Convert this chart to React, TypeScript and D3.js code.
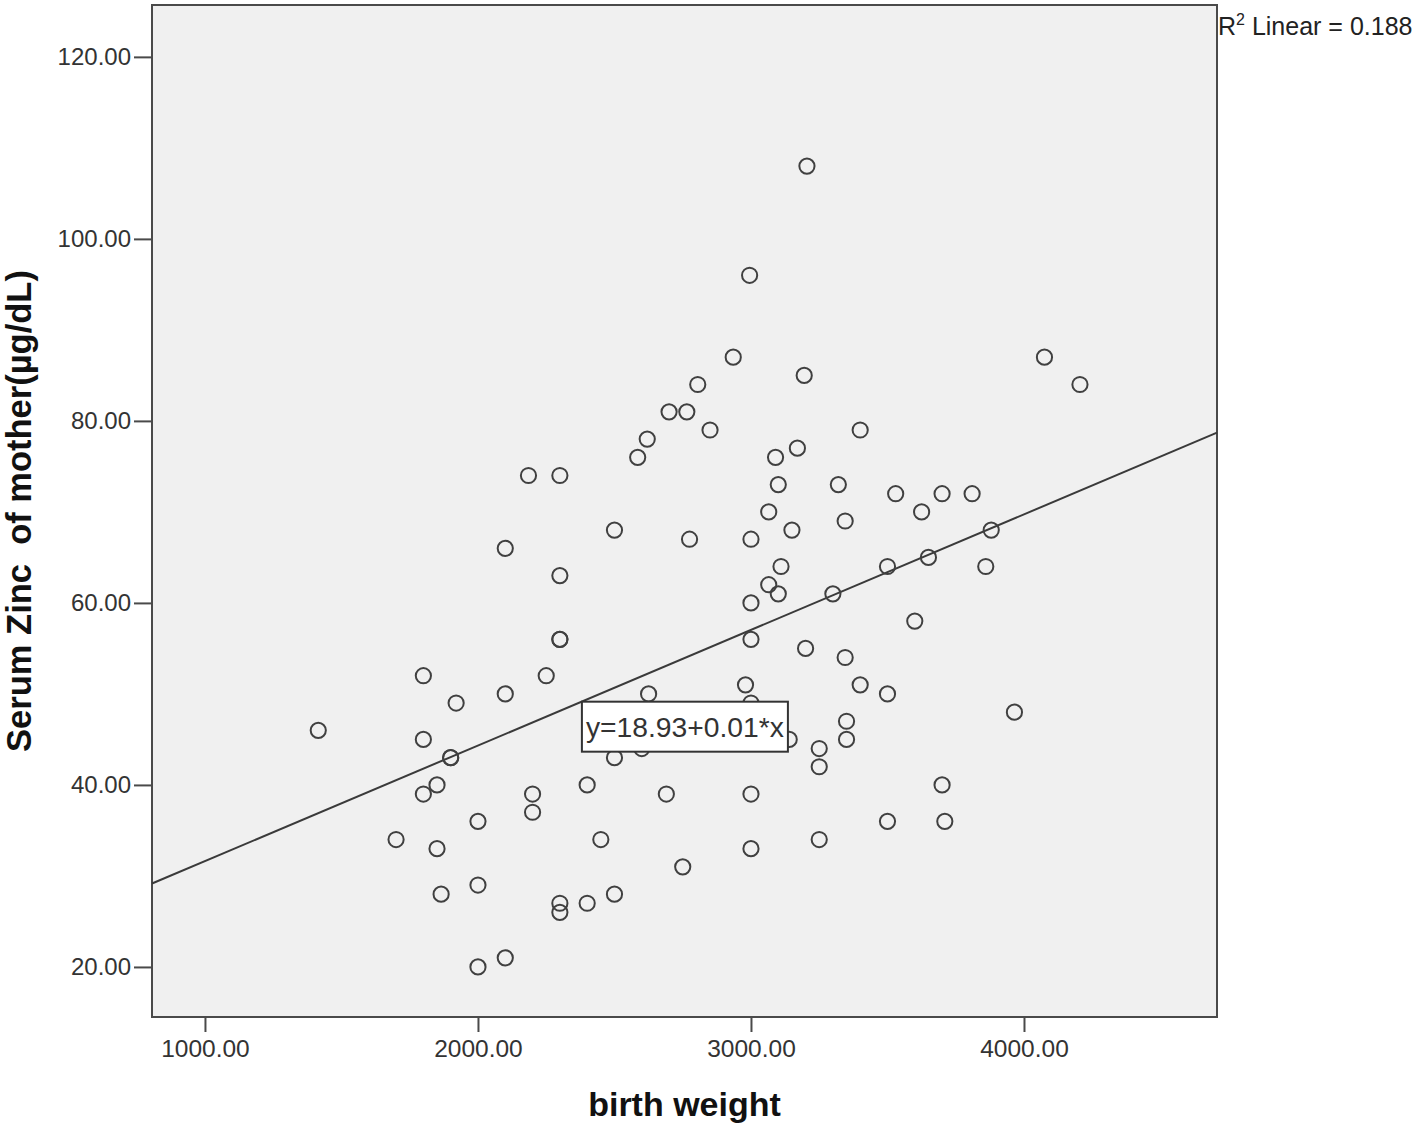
import React, { useEffect, useRef } from 'react';
import * as d3 from 'd3';

// birth weight (g) and serum zinc of mother (µg/dL)
const birthWeight = [
  1415, 1700, 1800, 1800, 1800, 1850, 1850, 1865, 1900, 1900, 1920, 2000, 2000, 2000,
  2100, 2100, 2100, 2185, 2200, 2200, 2250, 2300, 2300, 2300, 2300, 2300, 2300, 2400,
  2400, 2450, 2500, 2500, 2500, 2585, 2600, 2620, 2625, 2690, 2700, 2750, 2765, 2775,
  2805, 2850, 2935, 2980, 2995, 3000, 3000, 3000, 3000, 3000, 3000, 3065, 3065, 3090,
  3100, 3100, 3110, 3140, 3150, 3170, 3195, 3200, 3205, 3250, 3250, 3250, 3300, 3320,
  3345, 3345, 3350, 3350, 3400, 3400, 3500, 3500, 3500, 3530, 3600, 3625, 3650, 3700,
  3700, 3710, 3810, 3860, 3880, 3965, 4075, 4205,
];
const serumZinc = [
  46, 34, 52, 45, 39, 40, 33, 28, 43, 43, 49, 36, 29, 20,
  21, 66, 50, 74, 39, 37, 52, 74, 63, 56, 56, 27, 26, 40,
  27, 34, 68, 43, 28, 76, 44, 78, 50, 39, 81, 31, 81, 67,
  84, 79, 87, 51, 96, 67, 60, 56, 49, 39, 33, 70, 62, 76,
  73, 61, 64, 45, 68, 77, 85, 55, 108, 44, 42, 34, 61, 73,
  69, 54, 47, 45, 79, 51, 64, 50, 36, 72, 58, 70, 65, 72,
  40, 36, 72, 64, 68, 48, 87, 84,
];

const xTicks = [1000, 2000, 3000, 4000];
const yTicks = [20, 40, 60, 80, 100, 120];

// linear fit reported by SPSS
const fitIntercept = 18.93;
const fitSlope = 0.0127;
const fitLabel = 'y=18.93+0.01*x';
const r2Value = '0.188';
const fitLabelAt = [2758, 46.4];

const W = 1418;
const H = 1127;

const App = () => {
  const svgRef = useRef<SVGSVGElement>(null);

  useEffect(() => {
    const svg = d3.select(svgRef.current);
    svg.selectAll('*').remove();

    var left = 152, right = 1217, top = 5, bottom = 1017;

    var x = d3.scaleLinear().domain([806, 4707]).range([left, right]);
    var y = d3.scaleLinear().domain([14.5, 125.7]).range([bottom, top]);

    // plot background + frame
    svg.append('rect')
      .attr('x', left).attr('y', top)
      .attr('width', right - left).attr('height', bottom - top)
      .attr('fill', '#f0f0f0')
      .attr('stroke', '#4a4a4a')
      .attr('stroke-width', 2);

    // y axis
    var yAxis = svg.append('g').attr('transform', `translate(${left},0)`)
      .call(d3.axisLeft(y).tickValues(yTicks).tickSize(18).tickPadding(3).tickFormat(d3.format('.2f')));
    yAxis.select('.domain').remove();
    yAxis.selectAll('line').attr('stroke', '#4a4a4a').attr('stroke-width', 2);
    yAxis.selectAll('text')
      .attr('font-family', 'Liberation Sans, Arial, sans-serif')
      .attr('font-size', 24)
      .attr('fill', '#333');

    // x axis
    var xAxis = svg.append('g').attr('transform', `translate(0,${bottom})`)
      .call(d3.axisBottom(x).tickValues(xTicks).tickSize(15).tickPadding(8).tickFormat(d3.format('.2f')));
    xAxis.select('.domain').remove();
    xAxis.selectAll('line').attr('stroke', '#4a4a4a').attr('stroke-width', 2);
    xAxis.selectAll('text')
      .attr('font-family', 'Liberation Sans, Arial, sans-serif')
      .attr('font-size', 24.5)
      .attr('fill', '#333');

    // fit line over the full x range
    var xd = x.domain();
    svg.append('line')
      .attr('x1', x(xd[0])).attr('y1', y(fitIntercept + fitSlope * xd[0]))
      .attr('x2', x(xd[1])).attr('y2', y(fitIntercept + fitSlope * xd[1]))
      .attr('stroke', '#3a3a3a')
      .attr('stroke-width', 2);

    // points
    svg.append('g')
      .selectAll('circle')
      .data(birthWeight.map((bw, i) => [bw, serumZinc[i]]))
      .join('circle')
      .attr('cx', (d) => x(d[0]))
      .attr('cy', (d) => y(d[1]))
      .attr('r', 7.6)
      .attr('fill', 'none')
      .attr('stroke', '#404040')
      .attr('stroke-width', 2);

    // equation label
    var lx = x(fitLabelAt[0]), ly = y(fitLabelAt[1]);
    svg.append('rect')
      .attr('x', lx - 103).attr('y', ly - 25)
      .attr('width', 206).attr('height', 50)
      .attr('fill', '#fff')
      .attr('stroke', '#333')
      .attr('stroke-width', 2);
    svg.append('text')
      .attr('x', lx).attr('y', ly + 10)
      .attr('text-anchor', 'middle')
      .attr('font-family', 'Liberation Sans, Arial, sans-serif')
      .attr('font-size', 28)
      .attr('textLength', 198)
      .attr('lengthAdjust', 'spacingAndGlyphs')
      .attr('fill', '#333')
      .text(fitLabel);

    // R² label
    var r2 = svg.append('text')
      .attr('x', right + 1).attr('y', 35)
      .attr('font-family', 'Liberation Sans, Arial, sans-serif')
      .attr('font-size', 25)
      .attr('fill', '#222');
    r2.append('tspan').text('R');
    r2.append('tspan').attr('dy', -10).attr('font-size', 16).text('2');
    r2.append('tspan').attr('dy', 10).text(' Linear = ' + r2Value);

    // axis titles
    svg.append('text')
      .attr('x', (left + right) / 2).attr('y', 1116)
      .attr('text-anchor', 'middle')
      .attr('font-family', 'Liberation Sans, Arial, sans-serif')
      .attr('font-weight', 'bold')
      .attr('font-size', 34)
      .attr('fill', '#111')
      .text('birth weight');

    svg.append('text')
      .attr('transform', `translate(31,${(top + bottom) / 2}) rotate(-90)`)
      .attr('text-anchor', 'middle')
      .attr('font-family', 'Liberation Sans, Arial, sans-serif')
      .attr('font-weight', 'bold')
      .attr('font-size', 34.5)
      .attr('fill', '#111')
      .style('white-space', 'pre')
      .text('Serum Zinc  of mother(µg/dL)');
  }, []);

  return (
    <svg
      ref={svgRef}
      width={W}
      height={H}
      style={{ position: 'absolute', left: 0, top: 0, background: '#fff' }}
    />
  );
};

export default App;
